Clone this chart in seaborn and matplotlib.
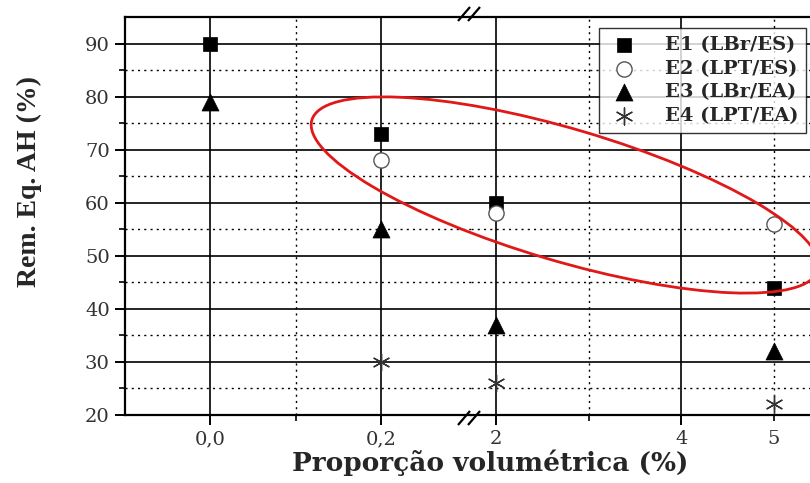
import matplotlib
matplotlib.use("Agg")
import matplotlib.pyplot as plt
import seaborn as sns
import pandas as pd
from matplotlib.patches import Ellipse

# ---- data ----
proporcao = [0.0, 0.2, 2, 5]
e1 = [90, 73, 60, 44]
e2 = [None, 68, 58, 56]
e3 = [79, 55, 37, 32]
e4 = [None, 30, 26, 22]
series_names = ["E1 (LBr/ES)", "E2 (LPT/ES)", "E3 (LBr/EA)", "E4 (LPT/EA)"]
left_ticks = [0.0, 0.2]
left_tick_labels = ["0,0", "0,2"]
right_ticks = [2, 4]
right_tick_labels = ["2", "4"]
right_minor = [3, 5]
right_minor_labels = ["", "5"]
yticks = [20, 30, 40, 50, 60, 70, 80, 90]

rows = []
for name, vals in zip(series_names, [e1, e2, e3, e4]):
    for xv, yv in zip(proporcao, vals):
        if yv is not None:
            rows.append({"x": xv, "y": yv, "serie": name})
df = pd.DataFrame(rows)

sns.set_theme(style="ticks")
plt.rcParams["font.family"] = ["DejaVu Serif"]

styles = {
    "E1 (LBr/ES)": dict(marker="s", color="black", edgecolor="black", s=110, linewidth=0.5),
    "E2 (LPT/ES)": dict(marker="o", color="white", edgecolor="#555555", s=120, linewidth=1.0),
    "E3 (LBr/EA)": dict(marker="^", color="black", edgecolor="black", s=150, linewidth=0.5),
    "E4 (LPT/EA)": dict(marker=(6, 2, 0), color="#333333", edgecolor="#333333", s=150, linewidth=1.0),
}

fig = plt.figure(figsize=(8.1, 4.83), dpi=100)
W, H = 810, 483
x0, xb, x1 = 125, 471, 820
yb, yt = 415, 17
axL = fig.add_axes([x0 / W, 1 - yb / H, (xb - x0) / W, (yb - yt) / H])
axR = fig.add_axes([xb / W, 1 - yb / H, (x1 - xb) / W, (yb - yt) / H])

TICKFONT = 14
for ax, lo, hi in [(axL, -0.1, 0.305), (axR, 1.73, 5.5)]:
    sub = df[(df["x"] >= lo) & (df["x"] <= hi)]
    for name in series_names:
        d = sub[sub["serie"] == name]
        st = styles[name]
        sns.scatterplot(data=d, x="x", y="y", ax=ax, marker=st["marker"],
                        color=st["color"], edgecolor=st["edgecolor"], s=st["s"],
                        linewidth=st["linewidth"], zorder=5,
                        label=name if ax is axR else None, legend=False)
    ax.set_xlim(lo, hi)
    ax.set_ylim(20, 95)
    ax.set_yticks(yticks)
    ax.set_yticks([25, 35, 45, 55, 65, 75, 85], minor=True)
    ax.grid(which="major", color="black", linestyle="-", linewidth=1.2, zorder=1)
    ax.grid(which="minor", color="black", linestyle=(0, (1.5, 3)), linewidth=1.0, zorder=1)
    ax.set_axisbelow(True)
    ax.set_xlabel("")
    ax.set_ylabel("")
    for sp in ax.spines.values():
        sp.set_linewidth(1.6)
        sp.set_color("black")
    ax.tick_params(which="major", direction="out", length=7, width=1.4, colors="black",
                   labelsize=TICKFONT, labelcolor="#333333", pad=4)
    ax.tick_params(which="minor", direction="out", length=4, width=1.2, colors="black",
                   labelsize=TICKFONT, labelcolor="#333333", pad=7)

axL.set_xticks(left_ticks, labels=left_tick_labels)
axL.set_xticks([0.1], minor=True)
axL.spines["right"].set_visible(False)
axL.set_yticklabels([str(v) for v in yticks])

axR.set_xticks(right_ticks, labels=right_tick_labels)
axR.set_xticks(right_minor, labels=right_minor_labels, minor=True)
axR.spines["left"].set_visible(False)
axR.tick_params(axis="y", which="both", length=0, labelleft=False)

# overlay in pixel coordinates
ov = fig.add_axes([0, 0, 1, 1], zorder=10)
ov.set_xlim(0, W)
ov.set_ylim(H, 0)
ov.axis("off")
ov.patch.set_alpha(0)
ov.add_patch(Ellipse((565, 195), 528, 132, angle=16.5, fill=False,
                     edgecolor="#e01818", linewidth=2.0))
# break marks
for yy in (14, 418):
    for dx in (-7, 3):
        ov.plot([xb + dx - 6, xb + dx + 6], [yy + 7, yy - 7], color="black", lw=1.6,
                solid_capstyle="butt")

# legend
handles, labels = axR.get_legend_handles_labels()
leg = fig.legend(handles, labels, loc="upper right",
                 bbox_to_anchor=(806 / W, 1 - 28 / H), frameon=True, fancybox=False,
                 prop={"family": "DejaVu Serif", "weight": "bold", "size": 14},
                 borderpad=0.4, labelspacing=0.3, handletextpad=1.2,
                 handlelength=1.8, borderaxespad=0)
leg.get_frame().set_edgecolor("black")
leg.get_frame().set_linewidth(1.0)
leg.set_zorder(20)

fig.text(29 / W, 1 - 181 / H, "Rem. Eq. AH (%)", rotation=90, ha="center", va="center",
         fontsize=20, fontweight="bold", family="Liberation Serif")
fig.text(490 / W, 1 - 463 / H, "Proporção volumétrica (%)", ha="center", va="center",
         fontsize=19, fontweight="bold")

fig.savefig("out.png", dpi=100)
